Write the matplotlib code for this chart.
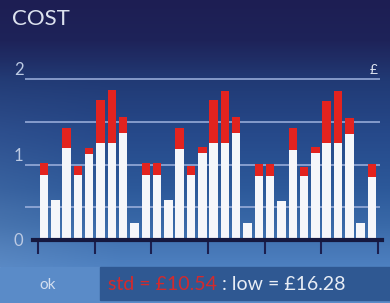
import numpy as np
import matplotlib
matplotlib.use("Agg")
import matplotlib.pyplot as plt
from matplotlib.colors import LinearSegmentedColormap
from matplotlib.patches import Rectangle
from matplotlib.transforms import offset_copy

plt.rcParams['font.family'] = ['Lato', 'DejaVu Sans']

# cost per slot: white part and red (over) part
white = [0.88, 0.586, 1.19, 0.88, 1.13, 1.26, 1.26, 1.375, 0.32, 0.88,
         0.88, 0.586, 1.18, 0.88, 1.134, 1.25, 1.25, 1.368, 0.313, 0.868,
         0.868, 0.578, 1.172, 0.868, 1.134, 1.25, 1.25, 1.36, 0.313, 0.86]
red = [0.14, 0.0, 0.24, 0.105, 0.07, 0.50, 0.62, 0.185, 0.0, 0.14,
       0.14, 0.0, 0.247, 0.105, 0.07, 0.508, 0.618, 0.188, 0.0, 0.14,
       0.14, 0.0, 0.255, 0.109, 0.07, 0.50, 0.618, 0.191, 0.0, 0.148]
grid_vals = [0.5, 1.0, 1.5, 2.0]
ytick_vals = [0, 1, 2]
ytick_labels = ['0', '1', '2']
title = 'COST'
std_text = 'std = £10.54'
low_text = ' : low = £16.28'

W, H = 390, 303
fig = plt.figure(figsize=(W / 100, H / 100), dpi=100)

# background gradient (pixel coords)
bg = fig.add_axes([0, 0, 1, 1])
bg.set_xlim(0, W)
bg.set_ylim(H, 0)
bg.axis('off')
cmap = LinearSegmentedColormap.from_list('bg', [
    (0.0, '#1d1e53'), (0.15, '#1e2359'), (0.3, '#213a75'),
    (0.5, '#26498a'), (0.7, '#2c5899'), (0.85, '#3a6aa9'),
    (0.93, '#4677b6'), (1.0, '#4d80c0')])
rows = cmap(np.linspace(0, 1, 267))[:, :3]
img = np.repeat(rows[:, None, :], W, axis=1)
# slightly lighter towards the left edge
side = np.clip(1 - np.arange(W) / 120, 0, 1) * 0.07
vert = np.clip((np.arange(267) - 60) / 150, 0, 1)
mix = side[None, :] * vert[:, None]
img = img * (1 - mix[..., None]) + mix[..., None]
bg.imshow(img, aspect='auto', extent=[0, W, 267, 0], zorder=0)

# bottom band
bg.add_patch(Rectangle((0, 267), 100, 36, color='#5a8bc8', zorder=1))
bg.add_patch(Rectangle((100, 267), 290, 36, color='#5a8bc8', zorder=1))
bg.add_patch(Rectangle((100, 267), 290, 33, color='#2f5892', zorder=2))
bg.text(48, 285, 'ok', color='#d2def0', fontsize=11, ha='center', va='center', zorder=3)
t1 = bg.text(108, 285, std_text, color='#d42a2c', fontsize=14, ha='left', va='center', zorder=3)
bg.annotate(low_text, xy=(1, 0.5), xycoords=t1, color='#e8edf5', fontsize=14,
            ha='left', va='center', zorder=3)
bg.text(12, 19, title, color='#dce2ee', fontsize=16, ha='left', va='center')

# main chart
ax = fig.add_axes([25 / W, (H - 240) / H, 357 / W, 185 / H])
ax.patch.set_alpha(0)
x = np.arange(len(white))
ax.set_xlim(-1.68, 29.89)
ax.set_ylim(0.117, 2.286)

ax.hlines(grid_vals, -1.68, 29.71, color='#9fb2de', lw=1.3, alpha=0.85, zorder=1)
ax.bar(x, white, width=0.75, color='#f5f6fa', zorder=2)
ax.bar(x, red, bottom=white, width=0.75, color='#e3231f', zorder=2)

for s in ['top', 'left', 'right']:
    ax.spines[s].set_visible(False)
ax.spines['bottom'].set_color('#15183f')
ax.spines['bottom'].set_linewidth(3)
ax.spines['bottom'].set_bounds(-0.97, 29.89)
ax.spines['bottom'].set_zorder(3)
ax.set_xticks(np.arange(-0.5, 30, 5))
ax.tick_params(axis='x', length=10, width=1.5, color='#1b1f4f', labelbottom=False)
ax.set_yticks([])

lab_tr = offset_copy(ax.transData, fig=fig, x=0, y=9, units='dots')
for v, lab in zip(ytick_vals, ytick_labels):
    ax.text(-2.25, v, lab, transform=lab_tr, color='#bccae3', fontsize=12,
            ha='center', va='center', clip_on=False)
ax.text(29.2, 2.0, '£', transform=lab_tr, color='#dfe5f0', fontsize=10,
        ha='center', va='center', clip_on=False)

fig.savefig('out.png', dpi=100)
